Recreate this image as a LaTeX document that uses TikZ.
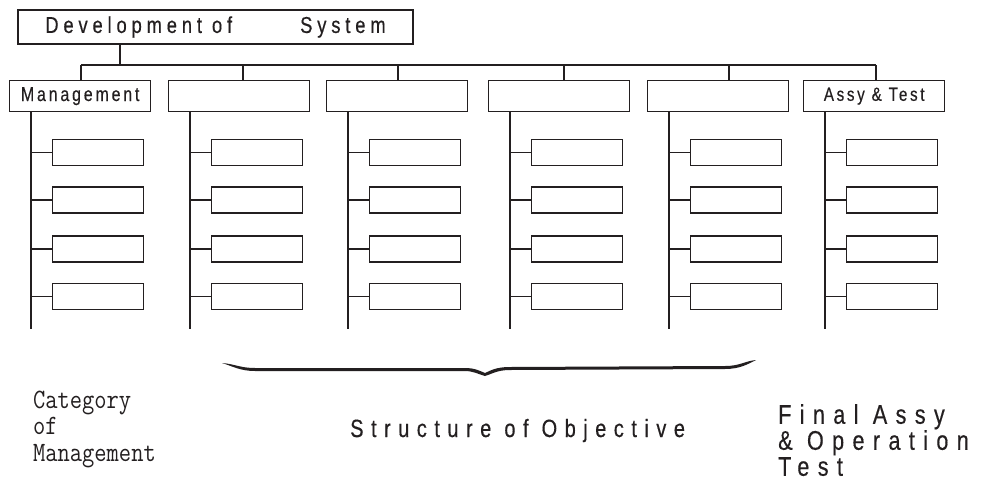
\documentclass[tikz,border=0pt]{standalone}
\usepackage{fontspec}
\setmainfont{Liberation Sans}
% condensed, letter-spaced sans faces for the labels
\newfontfamily\titlefont[FakeStretch=0.8,LetterSpace=21,FakeBold=0.4]{Liberation Sans}
\newfontfamily\boxfont[FakeStretch=0.8,LetterSpace=14,FakeBold=0.4]{Liberation Sans}
\newfontfamily\capfont[FakeStretch=0.8,LetterSpace=30,FakeBold=0.4]{Liberation Sans}
\newfontfamily\endfont[FakeStretch=0.8,LetterSpace=31,FakeBold=0.4]{Liberation Sans}
\definecolor{ink}{HTML}{231F20}
\begin{document}
\begin{tikzpicture}[x=1pt,y=-1pt,
  wire/.style={draw=ink,line width=1.4pt},
  topbox/.style={draw=ink,line width=1.4pt,rectangle,inner sep=0pt,
    minimum width=395pt,minimum height=34pt,text=ink,
    font=\titlefont\fontsize{23}{23}\selectfont},
  catbox/.style={draw=ink,line width=1.4pt,rectangle,inner sep=0pt,
    minimum width=141pt,minimum height=31pt,text=ink},
  subbox/.style={draw=ink,line width=1.4pt,rectangle,inner sep=0pt,
    minimum width=91pt,minimum height=26pt},
  note/.style={inner sep=0pt,text=ink,align=left}]
\useasboundingbox (0,0) rectangle (993,488);

% root of the breakdown
\node[topbox] (top) at (215.5,27) {Development of\hspace{68pt}System};

% second level: six work categories
\node[catbox,anchor=north west,font=\boxfont\fontsize{20}{20}\selectfont] (c1) at (9,80) {Management};
\node[catbox,anchor=north west] (c2) at (168,80) {};
\node[catbox,anchor=north west] (c3) at (326,80) {};
\node[catbox,anchor=north west] (c4) at (488,80) {};
\node[catbox,anchor=north west] (c5) at (647,80) {};
\node[catbox,anchor=north west,font=\boxfont\fontsize{19}{19}\selectfont] (c6) at (803,80) {Assy \& Test};

% bus from the root to each category
\coordinate (j) at (120,65);
\draw[wire] (top.south -| j) -- (j);
\foreach \i/\x in {1/81,2/243,3/398,4/564,5/729,6/876}{
  \coordinate (b\i) at (\x,65);
  \draw[wire] (b\i) -- (c\i.north -| b\i);
}
\draw[wire] (b1) -- (b6);

% spines with four work packages each
\foreach \i/\l in {1/9,2/168,3/326,4/488,5/647,6/803}{
  \coordinate (e\i) at (\l+22,329);
  \draw[wire] (c\i.south -| e\i) -- (e\i);
  \foreach \r/\y in {1/152.5,2/200,3/249,4/296.5}{
    \node[subbox,anchor=west] (s\i-\r) at (\l+43,\y) {};
    \draw[wire] (s\i-\r.west -| e\i) -- (s\i-\r.west);
  }
}

% brace under the objective columns
\fill[ink] (222,363) .. controls (235,364) and (240,368) .. (255,368)
  -- (465,368) .. controls (475,368) and (480,371) .. (485,373)
  .. controls (490,371) and (495,367) .. (510,367)
  -- (725,366) .. controls (740,366) and (745,361) .. (756,360)
  .. controls (748,364) and (740,369) .. (725,369)
  -- (510,370) .. controls (497,370) and (492,374) .. (485,376)
  .. controls (478,374) and (473,371) .. (465,371)
  -- (255,371) .. controls (240,371) and (232,366) .. (222,363) -- cycle;

% captions
\node[note,anchor=north west,font=\ttfamily\fontsize{28}{26.5}\selectfont] (cat) at (33,389.5)
  {\scalebox{0.85}[1]{\begin{tabular}{@{}l@{}}Category\\of\\Management\end{tabular}}};
\node[note,anchor=base west,font=\capfont\fontsize{25}{25}\selectfont] (obj) at (350,437)
  {Structure of Objective};
\node[note,anchor=north west,font=\endfont\fontsize{27}{26}\selectfont] (fin) at (778,404)
  {Final Assy\\\& Operation\\Test};
\end{tikzpicture}
\end{document}
